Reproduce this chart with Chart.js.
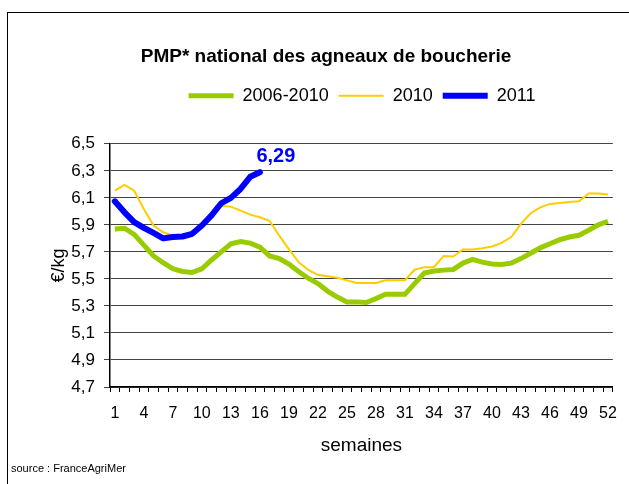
<!DOCTYPE html>
<html>
<head>
<meta charset="utf-8">
<script src="https://cdn.jsdelivr.net/npm/chart.js@4/dist/chart.umd.min.js"></script>
<style>
  body { margin: 0; background: #fff; }
  #wrap { position: relative; width: 629px; height: 484px; overflow: hidden; }
  #frame { position: absolute; left: 7px; top: 12px; width: 640px; height: 500px; border: 1.5px solid #000; }
  canvas { position: absolute; left: 0; top: 0; }
</style>
</head>
<body>
<div id="wrap">
  <div id="frame"></div>
  <canvas id="myChart" width="629" height="484"></canvas>
</div>
<script>
// semaines 1..52
const weeks = []
for (let i = 1; i <= 52; i++) weeks.push(String(i))

const avg0610 = [5.87, 5.875, 5.83, 5.75, 5.67, 5.62, 5.575, 5.555, 5.548, 5.575,
  5.64, 5.70, 5.76, 5.777, 5.765, 5.735, 5.67, 5.65, 5.61, 5.555,
  5.505, 5.465, 5.41, 5.366, 5.33, 5.33, 5.325, 5.354, 5.386, 5.386,
  5.386, 5.465, 5.543, 5.558, 5.565, 5.57, 5.617, 5.644, 5.624, 5.61,
  5.607, 5.617, 5.65, 5.69, 5.73, 5.76, 5.79, 5.81, 5.823, 5.86,
  5.90, 5.927]

const year2010 = [6.153, 6.195, 6.153, 6.018, 5.895, 5.845, 5.82, 5.81, 5.83, 5.89,
  5.96, 6.04, 6.035, 6.005, 5.976, 5.956, 5.93, 5.82, 5.72, 5.624,
  5.567, 5.53, 5.52, 5.508, 5.489, 5.47, 5.47, 5.47, 5.49, 5.49,
  5.49, 5.568, 5.587, 5.587, 5.67, 5.666, 5.718, 5.718, 5.727, 5.74,
  5.767, 5.81, 5.907, 5.986, 6.03, 6.055, 6.062, 6.07, 6.074, 6.133,
  6.133, 6.124]

const year2011 = [6.074, 5.993, 5.92, 5.878, 5.84, 5.80, 5.81, 5.814, 5.834, 5.895,
  5.97, 6.06, 6.10, 6.166, 6.256, 6.29]

const yMin = 4.7
const yMax = 6.5
const yStep = 0.2

const font = 'Arial, "Liberation Sans", sans-serif'

// extra room under legend, legend/title nudged, "6,29" label + source note
const extras = {
  id: 'extras',
  beforeInit(chart) {
    const origFit = chart.legend.fit
    chart.legend.fit = function () {
      origFit.bind(chart.legend)()
      this.height += 29
    }
  },
  afterLayout(chart) {
    chart.legend.left += 60
    chart.titleBlock.left -= 6
    chart.titleBlock.right -= 6
  },
  afterDatasetsDraw(chart) {
    const ctx = chart.ctx
    const meta = chart.getDatasetMeta(2)
    const last = meta.data[meta.data.length - 1]
    const v = year2011[year2011.length - 1]
    ctx.save()
    ctx.fillStyle = '#0000ff'
    ctx.font = 'bold 20px ' + font
    ctx.textAlign = 'center'
    ctx.textBaseline = 'middle'
    ctx.fillText(v.toFixed(2).replace('.', ','), last.x + 16, last.y - 16)
    ctx.fillStyle = '#000'
    ctx.font = '11px ' + font
    ctx.textAlign = 'left'
    ctx.fillText('source : FranceAgriMer', 11, 469)
    ctx.restore()
  }
}

const ctx = document.getElementById('myChart').getContext('2d')

const chart = new Chart(ctx, {
  type: 'line',
  data: {
    labels: weeks,
    datasets: [{
      label: '2006-2010',
      data: avg0610,
      borderColor: '#99cc00',
      backgroundColor: '#99cc00',
      borderWidth: 5,
      pointRadius: 0,
      tension: 0,
      order: 2
    }, {
      label: '2010',
      data: year2010,
      borderColor: '#ffcc00',
      backgroundColor: '#ffcc00',
      borderWidth: 2,
      pointRadius: 0,
      tension: 0,
      order: 1
    }, {
      label: '2011',
      data: year2011,
      borderColor: '#0000ff',
      backgroundColor: '#0000ff',
      borderWidth: 6,
      pointRadius: 0,
      tension: 0,
      borderCapStyle: 'round',
      borderJoinStyle: 'round',
      order: 0
    }]
  },
  options: {
    responsive: false,
    animation: false,
    layout: { padding: { left: 48, right: 13, top: 0, bottom: 27 } },
    plugins: {
      title: {
        display: true,
        text: 'PMP* national des agneaux de boucherie',
        color: '#000',
        font: { family: font, size: 19, weight: 'bold' },
        padding: { top: 45, bottom: 9 }
      },
      legend: {
        display: true,
        labels: {
          usePointStyle: true,
          pointStyle: 'line',
          pointStyleWidth: 45,
          color: '#000',
          font: { family: font, size: 18 },
          padding: 10,
          sort: (a, b) => a.datasetIndex - b.datasetIndex
        }
      },
      tooltip: { enabled: false }
    },
    scales: {
      x: {
        offset: true,
        grid: { offset: true, drawOnChartArea: false, drawTicks: true, tickLength: 5, color: '#000' },
        border: { color: '#000', width: 1.5 },
        ticks: {
          autoSkip: false,
          maxRotation: 0,
          padding: 12,
          color: '#000',
          font: { family: font, size: 16 },
          callback: function (val, i) { return i % 3 === 0 ? this.getLabelForValue(val) : '' }
        },
        title: { display: true, text: 'semaines', color: '#000', font: { family: font, size: 19 }, padding: 0 },
        afterFit(scale) { scale.height = 70 }
      },
      y: {
        min: yMin,
        max: yMax,
        grid: { color: '#444', lineWidth: 1, tickLength: 6 },
        border: { color: '#000', width: 1.5 },
        ticks: {
          stepSize: yStep,
          padding: 9,
          color: '#000',
          font: { family: font, size: 17 },
          callback: (v) => v.toFixed(1).replace('.', ',')
        },
        title: { display: true, text: '€/kg', color: '#000', font: { family: font, size: 18 }, padding: 0 },
        afterFit(scale) { scale.width = 62 }
      }
    }
  },
  plugins: [extras]
})
</script>
</body>
</html>
